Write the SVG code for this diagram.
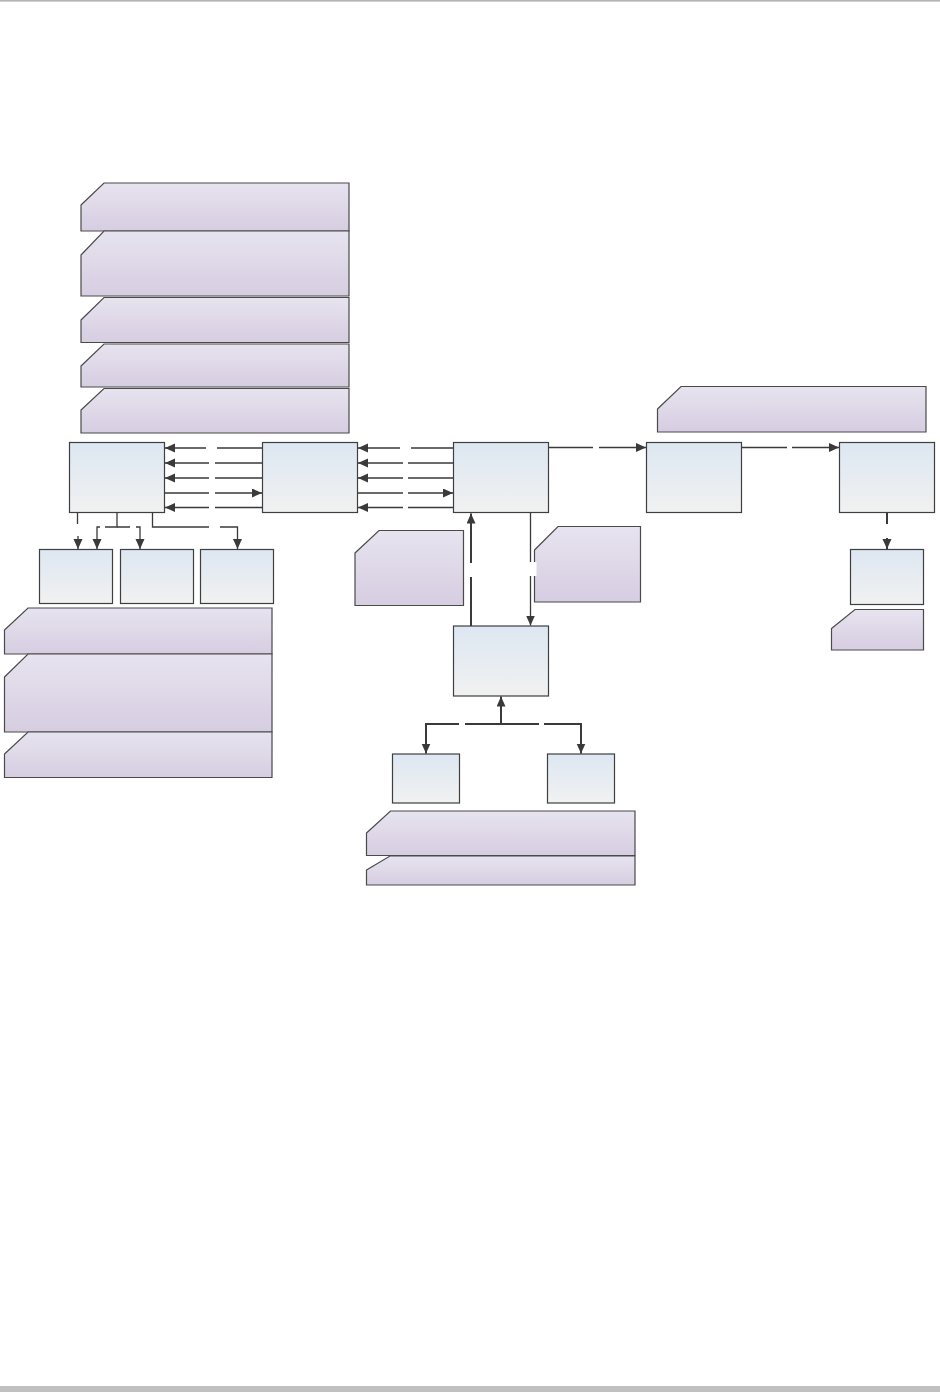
<svg xmlns="http://www.w3.org/2000/svg" width="940" height="1392" viewBox="0 0 940 1392">
<style>
.node{fill:url(#gb);stroke:#3f3f3f;stroke-width:1.2}
.note{fill:url(#gp);stroke:#4a4a4a;stroke-width:1.2}
.sh{fill:#dcdcdc;stroke:none;opacity:0.7}
.c{fill:none;stroke:#3a3a3a;stroke-width:1.3}
.t{fill:none;stroke:#3a3a3a;stroke-width:2}
</style>
<defs>
<linearGradient id="gb" x1="0" y1="0" x2="0" y2="1"><stop offset="0" stop-color="#dde7f2"/><stop offset="1" stop-color="#f1f1f1"/></linearGradient>
<linearGradient id="gp" x1="0" y1="0" x2="0" y2="1"><stop offset="0" stop-color="#e7e3ef"/><stop offset="1" stop-color="#d6cde1"/></linearGradient>
<marker id="ah" markerUnits="userSpaceOnUse" markerWidth="11" markerHeight="10" refX="10" refY="4.5" orient="auto"><path d="M0,0 L10,4.5 L0,9 Z" fill="#3a3a3a"/></marker>
</defs>
<rect x="0" y="0" width="940" height="1.6" fill="#b4b4b4"/>
<rect x="0" y="1386" width="940" height="6" fill="#c0c0c0"/>

<g id="notes-top-left">
<path class="note" d="M81,205 L104,183 L349,183 L349,231 L81,231 Z"/>
<path class="note" d="M81,255 L104,231 L349,231 L349,296 L81,296 Z"/>
<path class="note" d="M81,320 L104,297.5 L349,297.5 L349,342.5 L81,342.5 Z"/>
<path class="note" d="M81,366 L104,344 L349,344 L349,387 L81,387 Z"/>
<path class="note" d="M81,410 L104,388.5 L349,388.5 L349,433 L81,433 Z"/>
</g>
<g id="notes-bottom-left">
<path class="note" d="M4.5,630 L28,608 L272,608 L272,654 L4.5,654 Z"/>
<path class="note" d="M4.5,677 L28,654 L272,654 L272,732 L4.5,732 Z"/>
<path class="note" d="M4.5,754 L28,732 L272,732 L272,777.5 L4.5,777.5 Z"/>
</g>
<g id="note-p1"><path class="note" d="M355,553 L379,530.5 L463.5,530.5 L463.5,605.5 L355,605.5 Z"/></g>
<g id="note-p2"><path class="note" d="M534.5,550 L558,526.5 L640.5,526.5 L640.5,602 L534.5,602 Z"/></g>
<g id="note-r1"><path class="note" d="M657.5,409 L681,386.5 L926,386.5 L926,432 L657.5,432 Z"/></g>
<g id="note-i"><path class="note" d="M831.5,628.5 L855,609.5 L923.5,609.5 L923.5,650 L831.5,650 Z"/></g>
<g id="notes-bottom">
<path class="note" d="M366.5,833 L390.5,811 L635,811 L635,855.5 L366.5,855.5 Z"/>
<path class="note" d="M366.5,870 L390,856 L635,856 L635,885 L366.5,885 Z"/>
</g>

<g id="node-a"><rect class="node" x="69.5" y="442.5" width="95" height="70"/></g>
<g id="node-b"><rect class="node" x="262.5" y="442.5" width="95" height="70"/></g>
<g id="node-c"><rect class="node" x="453.5" y="442.5" width="95" height="70"/></g>
<g id="node-g"><rect class="node" x="646.5" y="442.5" width="95" height="70"/></g>
<g id="node-h"><rect class="node" x="839.5" y="442.5" width="95" height="70"/></g>
<g id="node-e"><rect class="node" x="453.5" y="626" width="95" height="70"/></g>
<g id="node-d1"><rect class="node" x="39.5" y="549.5" width="73" height="54"/></g>
<g id="node-d2"><rect class="node" x="120.5" y="549.5" width="73" height="54"/></g>
<g id="node-d3"><rect class="node" x="200.5" y="549.5" width="73" height="54"/></g>
<g id="node-i"><rect class="node" x="850.5" y="549.5" width="73" height="55"/></g>
<g id="node-f1"><rect class="node" x="392.5" y="754" width="67" height="49"/></g>
<g id="node-f2"><rect class="node" x="547.5" y="754" width="67" height="49"/></g>

<g id="connectors">
<path class="c" d="M262,448 L217,448 M206,448 L165,448" marker-end="url(#ah)"/>
<path class="c" d="M262,463 L215,463 M209,463 L165,463" marker-end="url(#ah)"/>
<path class="c" d="M262,478 L215,478 M209,478 L165,478" marker-end="url(#ah)"/>
<path class="c" d="M165,493 L209,493 M215,493 L262,493" marker-end="url(#ah)"/>
<path class="c" d="M262,507.5 L215,507.5 M209,507.5 L165,507.5" marker-end="url(#ah)"/>

<path class="c" d="M453,448 L411,448 M400,448 L358,448" marker-end="url(#ah)"/>
<path class="c" d="M453,463 L408,463 M403,463 L358,463" marker-end="url(#ah)"/>
<path class="c" d="M453,478 L408,478 M403,478 L358,478" marker-end="url(#ah)"/>
<path class="c" d="M358,493 L403,493 M408,493 L453,493" marker-end="url(#ah)"/>
<path class="c" d="M453,507.5 L408,507.5 M403,507.5 L358,507.5" marker-end="url(#ah)"/>

<path class="c" d="M549,447.5 L593,447.5 M599,447.5 L646,447.5" marker-end="url(#ah)"/>
<path class="c" d="M742,447.5 L787,447.5 M792,447.5 L839,447.5" marker-end="url(#ah)"/>
<path class="t" d="M887,513 L887,524 M887,538 L887,549" marker-end="url(#ah)"/>

<path class="c" d="M530.5,513 L530.5,562 M530.5,576 L530.5,625.5" marker-end="url(#ah)"/>
<rect x="527.5" y="562" width="9" height="14" fill="#ffffff"/>
<path class="t" d="M471,626 L471,577 M471,563 L471,513.5" marker-end="url(#ah)"/>

<path class="t" d="M501,724 L501,696.5" marker-end="url(#ah)"/>
<path class="t" d="M501,724 L539,724 M544,724 L581,724 L581,753.5" marker-end="url(#ah)"/>
<path class="t" d="M501,724 L465,724 M459,724 L426,724 L426,753.5" marker-end="url(#ah)"/>

<path class="c" d="M77.5,513 L77.5,524 M78,536 L78,549" marker-end="url(#ah)"/>
<path class="c" d="M117,513 L117,527 L105,527 M100,527 L97,527 L97,549" marker-end="url(#ah)"/>
<path class="c" d="M117,527 L130,527 M136,527 L140,527 L140,549" marker-end="url(#ah)"/>
<path class="c" d="M152.5,513 L152.5,527 L209,527 M220,527 L237.5,527 L237.5,549" marker-end="url(#ah)"/>
</g>
</svg>
